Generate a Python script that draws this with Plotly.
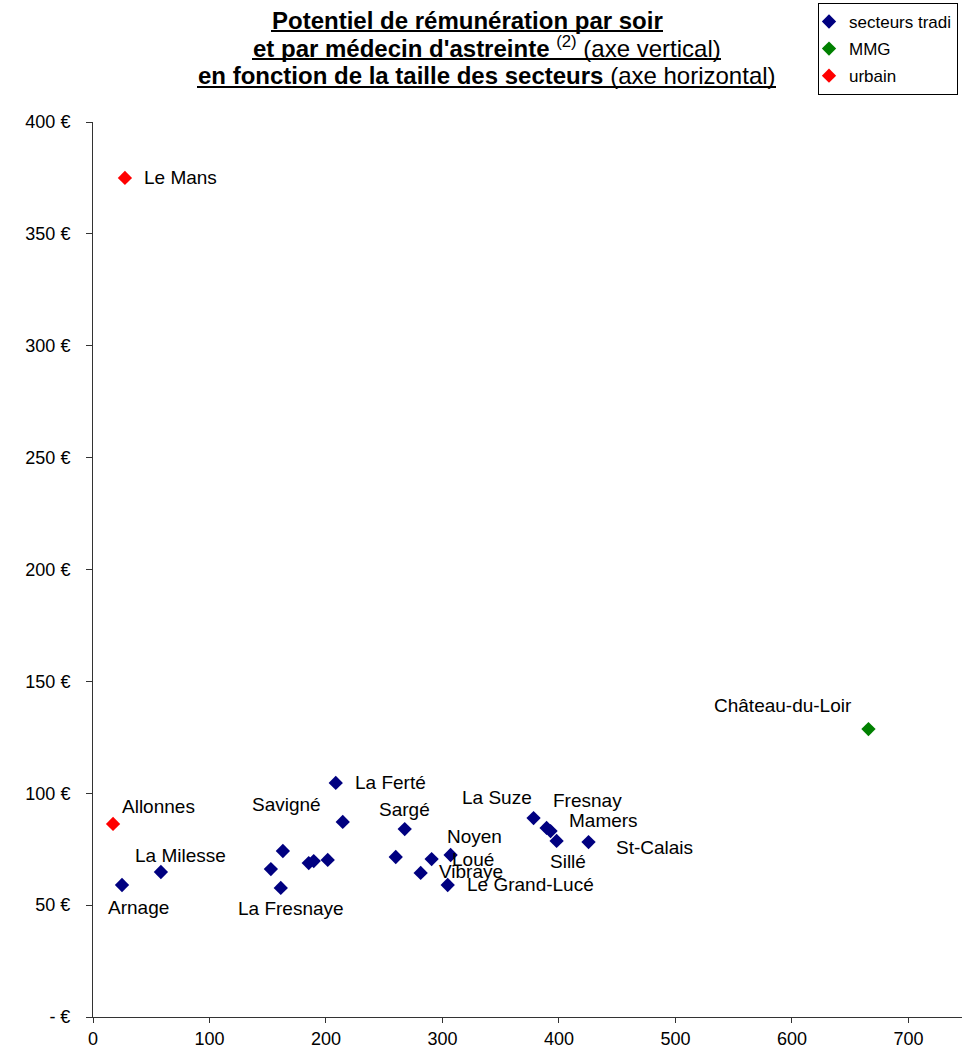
import plotly.graph_objects as go

# ---------------- data ----------------
trad_names = ["Arnage", "La Milesse", "La Ferté", "Savigné", "", "", "La Fresnaye", "", "", "",
              "Sargé", "", "Loué", "Noyen", "Vibraye", "Le Grand-Lucé", "La Suze", "Fresnay",
              "Mamers", "Sillé", "St-Calais"]
trad_x = [24.9, 58.3, 208.4, 214.4, 163.0, 152.7, 161.2, 185.2, 189.5, 201.5,
          267.6, 259.9, 290.7, 307.0, 281.3, 304.5, 378.2, 389.4, 392.8, 398.0, 425.4]
trad_y = [59.0, 64.8, 104.6, 87.2, 74.2, 66.1, 57.7, 68.8, 69.7, 70.2,
          84.0, 71.5, 70.6, 72.4, 64.4, 59.0, 88.9, 84.5, 83.1, 78.7, 78.2]

mmg_names = ["Château-du-Loir"]
mmg_x = [665.7]
mmg_y = [128.7]

urb_names = ["Le Mans", "Allonnes"]
urb_x = [27.4, 17.2]
urb_y = [375.0, 86.3]

series_names = ["secteurs tradi", "MMG", "urbain"]

y_tickvals = [0, 50, 100, 150, 200, 250, 300, 350, 400]
y_ticktext = ["- €", "50 €", "100 €", "150 €", "200 €", "250 €", "300 €", "350 €", "400 €"]
x_tickvals = [0, 100, 200, 300, 400, 500, 600, 700]

title_lines = [
    "<b>Potentiel de rémunération par soir</b>",
    "<b>et par médecin d'astreinte</b> <sup>(2)</sup> (axe vertical)",
    "<b>en fonction de la taille des secteurs</b> (axe horizontal)",
]

# ---------------- styles ----------------
FONT = "Liberation Sans, Arial, sans-serif"
colors = ["#000080", "#008000", "#FF0000"]
# label pixel offsets (dx, dy) relative to the marker, text anchored left
label_offsets = {
    "Arnage": (-16, -23), "La Milesse": (-28, 17), "La Ferté": (17, 0), "Savigné": (-93, 17),
    "La Fresnaye": (-45, -21), "Sargé": (-28, 20), "Loué": (18, 0), "Noyen": (-6, 19),
    "Vibraye": (16, 1), "Le Grand-Lucé": (17, 0), "La Suze": (-74, 21), "Fresnay": (4, 27),
    "Mamers": (16, 11), "Sillé": (-9, -21), "St-Calais": (25, -5), "Le Mans": (17, 0),
    "Allonnes": (7, 17), "Château-du-Loir": (-156, 24),
}
# plot area in pixels (for converting title decorations to paper coords)
L, R, T, B = 93, 962, 122, 1017
def px_x(p):
    return (p - L) / (R - L)
def px_y(p):
    return (B - p) / (B - T)

title_centers = [(467, 20), (487, 47), (487, 75)]
underline_spans = [(271, 663, 31), (252, 721, 59), (197, 776, 87)]

fig = go.Figure()
groups = [(trad_names, trad_x, trad_y), (mmg_names, mmg_x, mmg_y), (urb_names, urb_x, urb_y)]
for i, (names, xs, ys) in enumerate(groups):
    fig.add_trace(go.Scatter(
        x=xs, y=ys, mode="markers", name=series_names[i], legendgroup=series_names[i],
        marker=dict(symbol="diamond", size=11, color=colors[i], line=dict(width=0)),
        hoverinfo="skip",
    ))

annotations = []
for names, xs, ys in groups:
    for n, xv, yv in zip(names, xs, ys):
        if not n:
            continue
        dx, dy = label_offsets[n]
        annotations.append(dict(
            x=xv, y=yv, xref="x", yref="y", text=n, showarrow=False,
            xanchor="left", yanchor="middle", xshift=dx, yshift=dy,
            font=dict(family=FONT, size=19, color="black"),
        ))

for t, (cx, cy) in zip(title_lines, title_centers):
    annotations.append(dict(
        x=px_x(cx), y=px_y(cy), xref="paper", yref="paper", text=t, showarrow=False,
        xanchor="center", yanchor="middle",
        font=dict(family=FONT, size=24, color="black"),
    ))

shapes = []
for x0, x1, yy in underline_spans:
    shapes.append(dict(type="line", xref="paper", yref="paper",
                       x0=px_x(x0), x1=px_x(x1), y0=px_y(yy), y1=px_y(yy),
                       line=dict(color="black", width=2)))

fig.update_layout(
    width=962, height=1050,
    margin=dict(l=L, r=962 - R, t=T, b=1050 - B, autoexpand=False),
    paper_bgcolor="white", plot_bgcolor="white",
    font=dict(family=FONT, color="black"),
    showlegend=True,
    legend=dict(
        x=0.8343, y=1.133, xanchor="left", yanchor="top",
        bgcolor="white", bordercolor="black", borderwidth=1,
        font=dict(family=FONT, size=17, color="black"),
        tracegroupgap=2, itemclick=False, indentation=-10,
    ),
    xaxis=dict(
        range=[0, 746], showgrid=False, zeroline=False,
        showline=True, linecolor="#333333", linewidth=1,
        ticks="outside", ticklen=5, tickcolor="#333333",
        tickvals=x_tickvals, ticklabelstandoff=0,
        tickfont=dict(family=FONT, size=18, color="black"),
    ),
    yaxis=dict(
        range=[0, 400], showgrid=False, zeroline=False,
        showline=True, linecolor="#333333", linewidth=1,
        ticks="outside", ticklen=6, tickcolor="#333333",
        tickvals=y_tickvals, ticktext=y_ticktext, ticklabelstandoff=12,
        tickfont=dict(family=FONT, size=18, color="black"),
    ),
    annotations=annotations,
    shapes=shapes,
)

fig.write_html("out.html", config={"displayModeBar": False},
               post_script="document.body.style.margin='0';")
